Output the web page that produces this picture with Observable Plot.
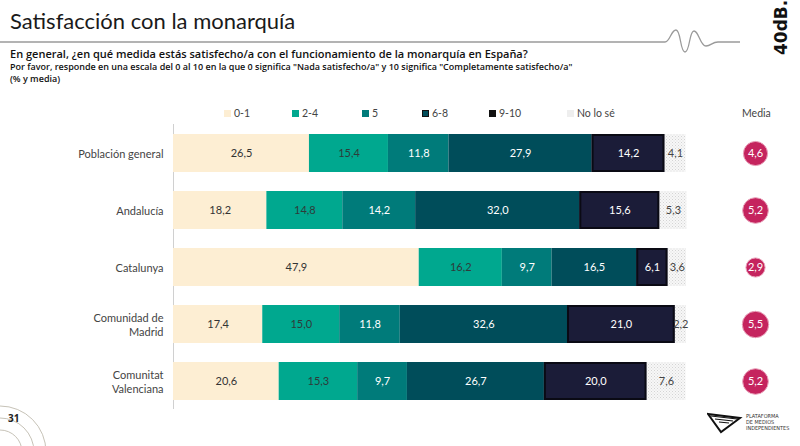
<!DOCTYPE html>
<html><head><meta charset="utf-8">
<script src="https://cdn.jsdelivr.net/npm/d3@7"></script>
<script src="https://cdn.jsdelivr.net/npm/@observablehq/plot@0.6"></script>
<style>
body{margin:0;width:800px;height:446px;overflow:hidden;background:#fff;font-family:Lato,"Open Sans",sans-serif;position:relative;color:#222}
#header{position:relative;height:124px;width:800px}
#title{position:absolute;left:10px;top:7px;font-size:22px;font-weight:400;color:#1a1a1a;font-family:Lato,sans-serif}
#logo{position:absolute;left:756px;top:20px;font-family:"DejaVu Sans",sans-serif;font-weight:700;font-size:17px;transform:rotate(-90deg);transform-origin:center;width:50px;text-align:center;color:#111}
#q{position:absolute;left:10px;top:47px;font-size:11px;line-height:14px;font-weight:600;font-family:"Open Sans",sans-serif;color:#111}
#q2{position:absolute;left:10px;top:61px;font-size:9px;line-height:11.5px;font-weight:600;font-family:"Open Sans",sans-serif;color:#111}
.lg{position:absolute;top:107px;font-size:10.5px;color:#444;white-space:nowrap}
.lg i{display:inline-block;width:7px;height:7px;margin-right:3px;vertical-align:0px;box-sizing:border-box}
#chart{position:absolute;left:0;top:124px}
#footer31{position:absolute;left:8px;top:411px;font-size:10px;font-weight:700;font-family:"Open Sans",sans-serif}
#pmi{position:absolute;left:746px;top:413px;font-size:5.5px;line-height:6px;color:#333;font-family:"DejaVu Sans Condensed","DejaVu Sans",sans-serif}
</style></head>
<body>
<svg width="0" height="0" style="position:absolute">
  <defs>
    <pattern id="dots" width="3" height="3" patternUnits="userSpaceOnUse">
      <rect width="3" height="3" fill="#f7f7f7"/>
      <rect width="1" height="1" fill="#d4d4d4"/>
      <rect x="1.5" y="1.5" width="1" height="1" fill="#dddddd"/>
    </pattern>
  </defs>
</svg>
<div id="header">
  <svg width="800" height="124" style="position:absolute;left:0;top:0">
    <path d="M0,42H665 C670,42 671,30 676,30 C681,30 680,52 685,52 C690,52 689,31 694,31 C699,31 700,46 706,46 C711,46 712,42 718,42 H740" fill="none" stroke="#9a9a9a" stroke-width="1.3"/>
  </svg>
  <div id="title">Satisfacción con la monarquía</div>
  <div id="logo">40dB.</div>
  <div id="q">En general, ¿en qué medida estás satisfecho/a con el funcionamiento de la monarquía en España?</div>
  <div id="q2">Por favor, responde en una escala del 0 al 10 en la que 0 significa "Nada satisfecho/a" y 10 significa "Completamente satisfecho/a"<br>(% y media)</div>
  <div id="legend"></div>
</div>
<div id="chart"></div>
<svg width="120" height="70" style="position:absolute;left:0;top:376px">
  <circle cx="0" cy="76" r="46" fill="none" stroke="#b8b2a4" stroke-width="0.8"/>
  <circle cx="0" cy="76" r="34" fill="none" stroke="#b8b2a4" stroke-width="0.8"/>
  <circle cx="0" cy="76" r="22" fill="none" stroke="#b8b2a4" stroke-width="0.8"/>
</svg>
<div id="footer31">31</div>
<svg width="36" height="22" style="position:absolute;left:707px;top:412px">
  <path d="M1,2 L33,6 L14,20 Z" fill="none" stroke="#111" stroke-width="2"/>
  <path d="M4,4 L30,7 M8,7 L26,9 M12,10 L22,11" stroke="#111" stroke-width="1.2"/>
</svg>
<div id="pmi">PLATAFORMA<br>DE MEDIOS<br>INDEPENDIENTES</div>
<script>
const categories = ["Población general","Andalucía","Catalunya","Comunidad de\nMadrid","Comunitat\nValenciana"];
const answers = ["0-1","2-4","5","6-8","9-10","No lo sé"];
const v01  = [26.5, 18.2, 47.9, 17.4, 20.6];
const v24  = [15.4, 14.8, 16.2, 15.0, 15.3];
const v5   = [11.8, 14.2, 9.7, 11.8, 9.7];
const v68  = [27.9, 32.0, 16.5, 32.6, 26.7];
const v910 = [14.2, 15.6, 6.1, 21.0, 20.0];
const vns  = [4.1, 5.3, 3.6, 2.2, 7.6];
const media = [4.6, 5.2, 2.9, 5.5, 5.2];
const fills = ["#FDEED3","#00A88F","#007B7A","#004D5A","#1B1C38","url(#dots)"];
const textColors = ["#333333","#2e3b3a","#ffffff","#ffffff","#ffffff","#444444"];

const series = [v01, v24, v5, v68, v910, vns];
const rows = [];
categories.forEach((c, i) => answers.forEach((a, j) => rows.push({cat: c, answer: a, value: series[j][i], k: j})));
const mediaRows = categories.map((c, i) => ({cat: c, media: media[i]}));
const fmt = v => d3.format(".1f")(v).replace(".", ",");

// legend
const legend = document.getElementById("legend");
const lgX = [224, 292, 362, 422, 489, 567];
answers.forEach((a, j) => {
  const s = document.createElement("div");
  s.className = "lg";
  s.style.left = lgX[j] + "px";
  const border = (a === "6-8") ? "1px solid #111" : "none";
  const bg = a === "No lo sé" ? "#eeeeee" : (a === "9-10" ? "#111" : fills[j]);
  s.innerHTML = `<i style="background:${bg};border:${border}"></i>${a}`;
  legend.appendChild(s);
});
const m = document.createElement("div");
m.className = "lg"; m.style.left = "742px"; m.textContent = "Media";
legend.appendChild(m);

const stackOpts = {x: "value", y: "cat", z: "answer", order: null};
const chart = Plot.plot({
  width: 800,
  height: 322,
  marginLeft: 173,
  marginRight: 114,
  marginTop: 0,
  marginBottom: 37,
  style: {fontFamily: "Lato, 'Open Sans', sans-serif", background: "transparent"},
  x: {domain: [0, 100], axis: null},
  y: {domain: categories, paddingInner: 1/3, paddingOuter: 1/6, label: null},
  color: {type: "identity"},
  opacity: {type: "identity"},
  r: {domain: [0, 5.5], range: [0, 13.2]},
  marks: [
    Plot.ruleX([0], {stroke: "#d0d0d0", strokeWidth: 1}),
    Plot.barX(rows, Plot.stackX({...stackOpts, fill: d => fills[d.k]})),
    Plot.barX(rows, Plot.stackX({...stackOpts, fill: "none", stroke: "#0a0a14", strokeWidth: 2, strokeOpacity: d => d.answer === "9-10" ? 1 : 0, inset: 1})),
    Plot.text(rows, Plot.stackX({...stackOpts, text: d => fmt(d.value), fill: d => textColors[d.k], fontSize: 11})),
    Plot.axisY({tickSize: 0, tickPadding: 10, fontSize: 11, color: "#444", lineHeight: 1.3}),
    Plot.dot(mediaRows, {x: () => 100, dx: 69, y: "cat", r: "media", fill: "#C5245E", stroke: "#e9a3bb", strokeWidth: 1}),
    Plot.text(mediaRows, {x: () => 100, dx: 69, y: "cat", text: d => fmt(d.media), fill: "#ffffff", fontSize: 11})
  ]
});
document.getElementById("chart").appendChild(chart);
</script>
</body></html>
